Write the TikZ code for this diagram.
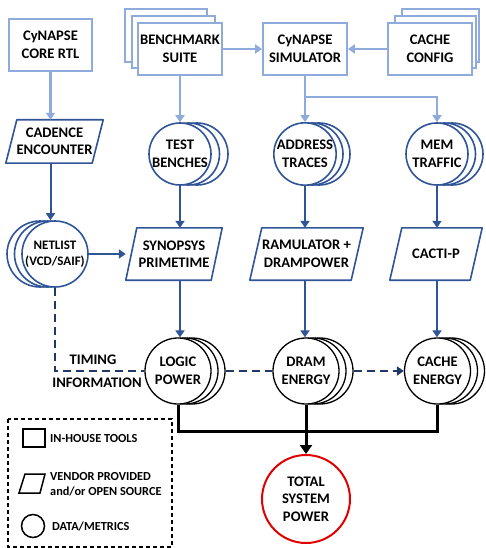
\documentclass[tikz,border=0pt]{standalone}
\usepackage{fontspec}
\setmainfont{Carlito}
\usetikzlibrary{arrows.meta,calc}
\definecolor{lb}{HTML}{8FAADC}
\definecolor{db}{HTML}{2F5597}
\definecolor{nv}{HTML}{203864}
\definecolor{rd}{HTML}{E00000}
\newcommand\vendorpar[2]{\draw[db, line width=1.6pt, line join=round] (#1.south west) -- ($(#1.north west)+(#2,0)$) -- (#1.north east) -- ($(#1.south east)-(#2,0)$) -- cycle;}
\begin{document}
\begin{tikzpicture}[x=1pt,y=-1pt,
  every node/.style={font=\fontsize{14.6}{17.5}\selectfont\bfseries, align=center, inner sep=0pt, text=black},
  inhouse/.style={draw=lb, line width=1.8pt, fill=white, minimum width=84pt, minimum height=52pt},
  vendor/.style={minimum height=52pt},
  data/.style={circle, draw=db, line width=1.6pt, fill=white, minimum size=62pt},
  metric/.style={circle, draw=black, line width=1.3pt, fill=white, minimum size=66pt},
  larrow/.style={draw=lb, line width=2.2pt, -{Triangle[width=9pt,length=7pt]}},
  darrow/.style={draw=db, line width=2pt, -{Triangle[width=9pt,length=7pt]}},
  dashline/.style={draw=nv, line width=2.4pt, dash pattern=on 8pt off 5pt},
  bline/.style={draw=black, line width=3pt},
  legtext/.style={font=\fontsize{12.3}{15}\selectfont\bfseries, anchor=base west},
]
\useasboundingbox (0,0) rectangle (485,548);

% ---- top row: in-house tools
\node[inhouse, minimum width=83pt] (rtl) at (50.5,45) {CyNAPSE\\CORE RTL};
\node[inhouse, minimum width=82pt, minimum height=53pt] (bench-2) at (166,35.5) {};
\node[inhouse, minimum width=83pt] (bench-1) at (173.5,42) {};
\node[inhouse] (bench) at (180,49) {BENCHMARK\\SUITE};
\node[inhouse] (sim) at (305,49) {CyNAPSE\\SIMULATOR};
\node[inhouse, minimum width=77pt, minimum height=53pt] (cfg-2) at (440.5,35.5) {};
\node[inhouse, minimum width=81pt] (cfg-1) at (435.5,42) {};
\node[inhouse] (cfg) at (430,49) {CACHE\\CONFIG};

% ---- second row
\node[minimum width=97pt, minimum height=43pt] (cad) at (54.5,141.5) {CADENCE\\ENCOUNTER};
\vendorpar{cad}{11}

\node[data] (tb-2) at (197,154) {};
\node[data] (tb-1) at (188.5,154) {};
\node[data] (tb) at (180,154) {TEST\\BENCHES};

\node[data] (addr-2) at (319,154) {};
\node[data] (addr-1) at (312,154) {};
\node[data] (addr) at (305,154) {ADDRESS\\TRACES};

\node[data] (mem-2) at (452,154) {};
\node[data] (mem-1) at (444.5,154) {};
\node[data] (mem) at (437,154) {MEM\\TRAFFIC};

% ---- third row
\node[data, minimum size=66pt] (net-2) at (40,254) {};
\node[data, minimum size=66pt] (net-1) at (47.5,254) {};
\node[data, minimum size=66pt, font=\fontsize{13}{16.5}\selectfont\bfseries] (net) at (55,254) {NETLIST\\(VCD/SAIF)};

\node[vendor, minimum width=96pt] (syn) at (174,254) {SYNOPSYS\\PRIMETIME};
\vendorpar{syn}{11}
\node[vendor, minimum width=113pt] (ram) at (306.5,254) {RAMULATOR +\\DRAMPOWER};
\vendorpar{ram}{12}
\node[vendor, minimum width=92pt] (cacti) at (436,254) {CACTI-P};
\vendorpar{cacti}{12}

% ---- fourth row
\node[metric] (logic-2) at (192,371) {};
\node[metric] (logic-1) at (185,371) {};
\node[metric] (logic) at (178,371) {LOGIC\\POWER};

\node[metric] (dram-2) at (320,371) {};
\node[metric] (dram-1) at (313,371) {};
\node[metric] (dram) at (306,371) {DRAM\\ENERGY};

\node[metric] (cen-2) at (451.5,371) {};
\node[metric] (cen-1) at (444.5,371) {};
\node[metric] (cen) at (437.5,371) {CACHE\\ENERGY};

\node[circle, draw=rd, line width=2pt, minimum size=88pt] (total) at (306,499) {TOTAL\\SYSTEM\\POWER};

\node (timing) at (93,360) {TIMING};
\node (info) at (97,383) {INFORMATION};

% ---- light blue connectors
\coordinate (br) at (305,97);
\draw[larrow] (rtl.south) -- (rtl.south |- cad.north);
\draw[larrow] (bench) -- (sim);
\draw[larrow] (cfg) -- (sim);
\draw[larrow] (bench.south) -- (tb.north);
\draw[larrow] (sim.south) -- (addr.north);
\draw[lb, line width=2.2pt] (sim.south) -- (br);
\draw[larrow] (br) -| (mem.north);

% ---- dark blue connectors
\draw[darrow] (cad.south -| rtl.south) -- (rtl.south |- net.north);
\draw[darrow] (net) -- (syn);
\draw[darrow] (tb.south) -- (tb.south |- syn.north);
\draw[darrow] (tb.south |- syn.south) -- (tb.south |- logic.north);
\draw[darrow] (addr.south) -- (addr.south |- ram.north);
\draw[darrow] (addr.south |- ram.south) -- (addr.south |- dram.north);
\draw[darrow] (mem.south) -- (mem.south |- cacti.north);
\draw[darrow] (mem.south |- cacti.south) -- (mem.south |- cen.north);

% ---- dashed timing information
\draw[dashline] (net.south) |- (logic.west);
\draw[dashline] (logic-2.east) -- (dram.west);
\draw[dashline, -{Triangle[width=9pt,length=7pt]}] (dram-2.east) -- (cen.west);

% ---- black power sum
\coordinate (jl) at (178,431);
\draw[bline] (logic.south) -- (jl) -| (cen.south);
\draw[bline, -{Triangle[width=12pt,length=9pt]}] (dram.south) -- (total.north);

% ---- legend
\draw[black, line width=1.2pt, dash pattern=on 4pt off 3pt] (8,419) rectangle (172,547);
\node[draw=black, line width=1.5pt, minimum width=22pt, minimum height=18pt] (lsq) at (34,438) {};
\node[legtext] (lt1) at (50,442) {IN-HOUSE TOOLS};
\coordinate (lp1) at (19,493);
\coordinate (lp2) at (25,474);
\coordinate (lp3) at (45,474);
\coordinate (lp4) at (40,493);
\draw[black, line width=1.5pt] (lp1) -- (lp2) -- (lp3) -- (lp4) -- cycle;
\node[legtext] (lt2) at (50,480) {VENDOR PROVIDED};
\node[legtext] (lt3) at (50,495) {and/or OPEN SOURCE};
\node[circle, draw=black, line width=1.5pt, minimum size=23pt] (lci) at (33,526) {};
\node[legtext] (lt4) at (52,530) {DATA/METRICS};
\end{tikzpicture}
\end{document}
